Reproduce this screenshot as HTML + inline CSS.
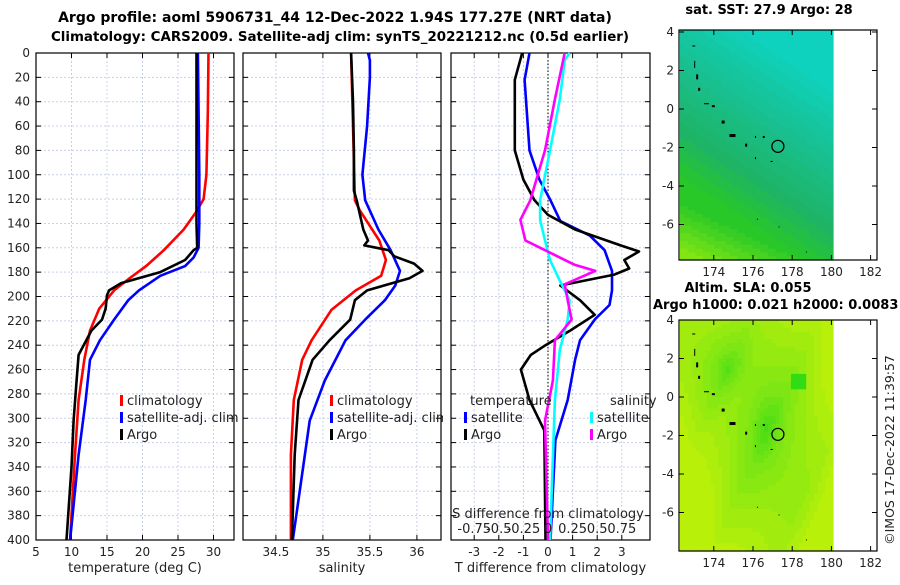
<!DOCTYPE html>
<html><head><meta charset="utf-8"><style>
body{margin:0;background:#fff;width:900px;height:580px;overflow:hidden}
svg text{font-family:"DejaVu Sans","Liberation Sans",sans-serif;fill:#222}
.t{font-weight:bold;font-size:13px;fill:#000}
.tk{font-size:12px}
</style></head><body>
<svg id="s" width="900" height="580" xmlns="http://www.w3.org/2000/svg">
<text class="t" x="335" y="22" text-anchor="middle" style="font-size:14px">Argo profile: aoml 5906731_44 12-Dec-2022 1.94S 177.27E (NRT data)</text>
<text class="t" x="340" y="41" text-anchor="middle" style="font-size:13.4px">Climatology: CARS2009. Satellite-adj clim: synTS_20221212.nc (0.5d earlier)</text>
<text class="t" x="769" y="14" text-anchor="middle">sat. SST: 27.9 Argo: 28</text>
<text class="t" x="748" y="292" text-anchor="middle">Altim. SLA: 0.055</text>
<text class="t" x="653" y="309">Argo h1000: 0.021 h2000: 0.0083</text>
<text class="tk" x="0" y="0" transform="translate(894,450) rotate(-90)" text-anchor="middle" style="font-size:12.5px">©IMOS 17-Dec-2022 11:39:57</text>
</svg>
<script>
// ---- data ----
const depthTicks=[0,20,40,60,80,100,120,140,160,180,200,220,240,260,280,300,320,340,360,380,400];
const tempTicks=[5,10,15,20,25,30];
const salTicks=[34.5,35,35.5,36];
const dTTicks=[-3,-2,-1,0,1,2,3];
const dSTickLabels=["-0.75","-0.5","-0.25","0","0.25","0.5","0.75"];
const dSTickVals=[-0.75,-0.5,-0.25,0,0.25,0.5,0.75];

const climTDepth=[0,50,100,120,131,145,162,175,185,195,210,228,252,285,330,400];
const climT=[29.3,29.2,29.0,28.6,27.5,25.8,23.0,20.5,18.2,16.0,13.9,12.6,11.8,11.0,10.5,9.8];
const satTDepth=[0,50,100,140,160,168,175,183,195,203,219,236,252,285,330,400];
const satT=[27.8,27.9,28.0,28.0,27.9,27.2,26.0,22.5,19.5,18.0,16.0,14.0,12.6,12.0,11.0,9.8];
const argoTDepth=[0,50,100,140,160,162,170,180,189,195,199,210,219,228,248,270,302,340,400];
const argoT=[27.6,27.6,27.6,27.6,27.7,27.2,26.0,22.5,17.0,15.3,15.0,14.8,14.3,12.8,11.0,10.7,10.3,10.0,9.3];

const climSDepth=[0,60,121,129,154,170,183,195,211,236,252,285,330,400];
const climS=[35.3,35.32,35.34,35.39,35.6,35.67,35.62,35.35,35.09,34.88,34.78,34.69,34.66,34.66];
const satSDepth=[0,6,20,60,100,121,145,162,179,191,203,219,236,269,302,400];
const satS=[35.48,35.5,35.5,35.47,35.42,35.45,35.59,35.72,35.82,35.77,35.66,35.45,35.24,35.02,34.86,34.68];
const argoSDepth=[0,40,80,113,121,145,154,158,162,167,173,179,185,195,203,219,236,252,285,330,400];
const argoS=[35.3,35.32,35.33,35.33,35.36,35.43,35.48,35.44,35.7,35.76,35.97,36.06,35.92,35.47,35.34,35.29,35.07,34.89,34.74,34.7,34.67];

const dTArgoDepth=[0,22,80,104,121,133,145,158,163,170,177,182,191,203,215,228,240,248,260,285,310,400];
const dTArgo=[-1.05,-1.35,-1.35,-1.0,-0.55,0,1.1,2.95,3.7,3.1,3.3,2.7,0.5,1.3,1.9,0.9,-0.1,-0.7,-1.1,-0.75,-0.15,-0.1];
const dTSatDepth=[0,22,80,104,121,138,150,162,179,195,207,219,236,252,285,318,400];
const dTSat=[-0.75,-0.95,-0.75,-0.35,0.1,0.5,1.7,2.3,2.6,2.6,2.5,1.9,1.3,1.1,0.8,0.3,0.1];
const dSArgoDepth=[0,38,80,121,137,154,162,174,179,190,203,219,236,269,302,400];
const dSArgo=[0.17,0.07,-0.03,-0.18,-0.28,-0.23,-0.03,0.27,0.48,0.17,0.2,0.24,0.07,0.05,-0.03,0.0];
const dSSatDepth=[0,6,38,80,121,137,154,170,187,203,219,244,285,400];
const dSSat=[0.22,0.17,0.12,0.02,-0.08,-0.08,-0.03,0.02,0.12,0.22,0.2,0.12,0.07,0.02];

const svg=document.getElementById('s');
const NS='http://www.w3.org/2000/svg';
function mk(tag,at,parent){const e=document.createElementNS(NS,tag);for(const k in at)e.setAttribute(k,at[k]);(parent||svg).appendChild(e);return e;}
const Y0=53,Y1=540;
const yD=d=>Y0+d*(Y1-Y0)/400;

function panel(name,x0,x1,xs,ticks,labels,xlabel){
  const g=mk('g',{});
  
  
  ticks.forEach((v,i)=>{
    const x=xs(v);
    const gl=mk('line',{x1:x,x2:x,y1:Y0,y2:Y1,stroke:'#c8d0ea','stroke-dasharray':'2,2','stroke-width':1},g);
    
    
    mk('line',{x1:x,x2:x,y1:Y1,y2:Y1-5,stroke:'#000'},g);
    mk('line',{x1:x,x2:x,y1:Y0,y2:Y0+5,stroke:'#000'},g);
    const t=mk('text',{x:x,y:556,'text-anchor':'middle',class:'tk'},g);t.textContent=labels[i];
    
    
  });
  depthTicks.forEach(d=>{
    const y=yD(d);
    if(d>0&&d<400){const gl=mk('line',{x1:x0,x2:x1,y1:y,y2:y,stroke:'#c8d0ea','stroke-dasharray':'2,2'},g);
      
      }
    mk('line',{x1:x0,x2:x0+5,y1:y,y2:y,stroke:'#000'},g);
    mk('line',{x1:x1,x2:x1-5,y1:y,y2:y,stroke:'#000'},g);
  });
  const xl=mk('text',{x:(x0+x1)/2,y:572,'text-anchor':'middle',style:'font-size:13px'},g);xl.textContent=xlabel;
  
  
  const fr=mk('rect',{x:x0,y:Y0,width:x1-x0,height:Y1-Y0,fill:'none',stroke:'#000','stroke-width':1.2},g);
  
  
  return g;
}
function line(g,name,depths,vals,xs,color,w){
  const p=depths.map((d,i)=>xs(vals[i]).toFixed(1)+','+yD(d).toFixed(1)).join(' ');
  const e=mk('polyline',{points:p,fill:'none',stroke:color,'stroke-width':w||2.6,'stroke-linejoin':'round'},g);
  
  
}
function leg(g,x,y,color,txt,name){
  mk('rect',{x:x,y:y-10,width:3,height:11,fill:color},g);
  const t=mk('text',{x:x+7,y:y,style:'font-size:13px'},g);t.textContent=txt;
  
  
}

// panel 1 temperature
const xT=v=>36+(v-5)*7.1;
const g1=panel('temperature-panel',36,234,xT,tempTicks,tempTicks.map(String),'temperature (deg C)');
depthTicks.forEach(d=>{const t=mk('text',{x:30,y:yD(d)+4,'text-anchor':'end',class:'tk'});t.textContent=d;
  
  });
line(g1,'temp-climatology-line',climTDepth,climT,xT,'#f00');
line(g1,'temp-satellite-line',satTDepth,satT,xT,'#00f');
line(g1,'temp-argo-line',argoTDepth,argoT,xT,'#000');
leg(g1,120,405,'#f00','climatology','legend-climatology');
leg(g1,120,422,'#00f','satellite-adj. clim','legend-satellite');
leg(g1,120,439,'#000','Argo','legend-argo');

// panel 2 salinity
const xS=v=>243+(v-34.15)*94;
const g2=panel('salinity-panel',243,441,xS,salTicks,salTicks.map(String),'salinity');
line(g2,'sal-climatology-line',climSDepth,climS,xS,'#f00');
line(g2,'sal-satellite-line',satSDepth,satS,xS,'#00f');
line(g2,'sal-argo-line',argoSDepth,argoS,xS,'#000');
leg(g2,330,405,'#f00','climatology','legend-climatology');
leg(g2,330,422,'#00f','satellite-adj. clim','legend-satellite');
leg(g2,330,439,'#000','Argo','legend-argo');
mk('rect',{x:443,y:Y0,width:7,height:Y1-Y0,fill:'#fff'});

// panel 3 differences
const xD=v=>548+v*24.6;
const xDS=v=>548+v*4*24.6;
const g3=panel('difference-panel',451,650,xD,dTTicks,dTTicks.map(String),'T difference from climatology');
const zl=mk('line',{x1:548,x2:548,y1:Y0,y2:Y1,stroke:'#000','stroke-dasharray':'1.5,2'},g3);


line(g3,'tdiff-satellite-line',dTSatDepth,dTSat,xD,'#00f');
line(g3,'tdiff-argo-line',dTArgoDepth,dTArgo,xD,'#000');
line(g3,'sdiff-satellite-line',dSSatDepth,dSSat,xDS,'#00ffff');
line(g3,'sdiff-argo-line',dSArgoDepth,dSArgo,xDS,'#ff00ff');
{const t=mk('text',{x:470,y:405,style:'font-size:13px'},g3);t.textContent='temperature';
 
 const u=mk('text',{x:610,y:405,style:'font-size:13px'},g3);u.textContent='salinity';
 }
leg(g3,464,422,'#00f','satellite','legend-t-satellite');
leg(g3,464,439,'#000','Argo','legend-t-argo');
leg(g3,590,422,'#00ffff','satellite','legend-s-satellite');
leg(g3,590,439,'#ff00ff','Argo','legend-s-argo');
{const t=mk('text',{x:548,y:518,'text-anchor':'middle',style:'font-size:13px'},g3);t.textContent='S difference from climatology';
 }
dSTickVals.forEach((v,i)=>{const t=mk('text',{x:xDS(v),y:533,'text-anchor':'middle',style:'font-size:13px'},g3);t.textContent=dSTickLabels[i];
 });

// maps
function map(name,top,bot,y4,colorFn){
  const g=mk('g',{});
  
  
  const lx=l=>753+(l-176)*19.6, ly=l=>y4+(4-l)*19.25;
  const cw=153/40, ch=(bot-top)/60;
  for(let i=0;i<40;i++)for(let j=0;j<60;j++){
    mk('rect',{x:(680+i*cw).toFixed(2),y:(top+j*ch).toFixed(2),width:(cw+0.6).toFixed(2),height:(ch+0.6).toFixed(2),fill:colorFn(i/40,j/60)},g);
  }
  [[172.9,3.3,3,1],[173,2.5,1,7],[173.1,1.8,2,5],[173.2,1.1,2,3],[173.5,0.3,5,1],[173.9,0.2,3,2],[174.4,-0.6,3,3],[174.8,-1.3,6,3],[175.6,-1.8,2,3],[176.1,-1.4,1,2],[176.5,-1.4,2,2],[176.1,-2.5,1,2],[176.9,-2.7,2,1],[176.2,-5.7,1,1],[177.3,-6.1,1,1],[178.7,-7.4,1,1]].forEach(a=>{
    mk('rect',{x:lx(a[0]),y:ly(a[1]),width:a[2],height:a[3],fill:'#000'},g);
  });
  const c=mk('circle',{cx:lx(177.27),cy:ly(-1.94),r:6,fill:'none',stroke:'#000','stroke-width':1.3},g);
  
  
  [4,2,0,-2,-4,-6].forEach(l=>{const y=ly(l);
    mk('line',{x1:679,x2:684,y1:y,y2:y,stroke:'#000'},g);mk('line',{x1:877,x2:872,y1:y,y2:y,stroke:'#000'},g);
    const t=mk('text',{x:674,y:y+4,'text-anchor':'end',class:'tk'},g);t.textContent=l;
    });
  [174,176,178,180,182].forEach(l=>{const x=lx(l);
    mk('line',{x1:x,x2:x,y1:bot,y2:bot-5,stroke:'#000'},g);mk('line',{x1:x,x2:x,y1:top,y2:top+5,stroke:'#000'},g);
    const t=mk('text',{x:x,y:bot+16,'text-anchor':'middle',class:'tk'},g);t.textContent=l;
    });
  mk('rect',{x:679,y:top,width:198,height:bot-top,fill:'none',stroke:'#000','stroke-width':1.2},g);
}
function mix(a,b,t){t=Math.max(0,Math.min(1,t));return 'rgb('+a.map((v,i)=>Math.round(v+(b[i]-v)*t)).join(',')+')';}
function q(v,n){return Math.round(v*n)/n;}
map('sst-map',30,260,32,(u,v)=>{
  const cyan=[15,210,190],teal=[25,190,140],mid=[30,180,100],grn=[40,200,40],yel=[130,230,20];
  let t=q(v*1.25-u*0.55+0.25,14);
  let c=t<0.45?mix(cyan,teal,t/0.45):(t<0.8?mix(teal,mid,(t-0.45)/0.35):mix(mid,grn,(t-0.8)/0.25));
  if(v>0.76){const s=q((v-0.76)*4.5-u*1.4+0.1,6);if(s>0)c=mix(grn,yel,s);}
  return c;});
map('sla-map',320,551,320,(u,v)=>{
  const y1=[185,240,10],g1=[125,230,20],g2=[70,220,20];
  let d=Math.min(Math.hypot((u-0.55)*1.3,(v-0.45)*0.9),Math.hypot((u-0.3)*1.2,(v-0.2)*1.5)+0.05)+0.12*Math.abs(Math.sin(u*7+v*5));
  let c=d<0.22?mix(g2,g1,q(d/0.22,4)):mix(g1,y1,q((d-0.22)*2.2,5));
  if(u>0.72&&u<0.82&&v>0.22&&v<0.3)c='rgb(50,220,20)';
  return c;});
</script>
</body></html>
